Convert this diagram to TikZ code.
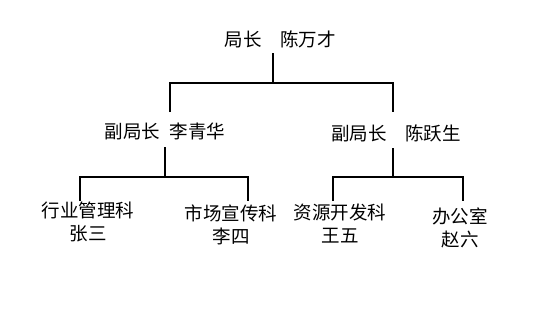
\documentclass[tikz,border=0pt]{standalone}
\usepackage{fontspec}
\setmainfont{Noto Sans CJK SC}
\usepackage{tikz}

\begin{document}
\begin{tikzpicture}[x=1pt,y=-1pt,line width=2.2pt,font=\fontsize{18.5}{23}\selectfont,
  unit/.style={align=center,inner sep=0pt}]
\useasboundingbox (0,0) rectangle (537,317);
\node[unit] (chief) at (280,39) {局长\hspace{1em}陈万才};
\node[unit] (depL) at (165,131) {副局长\hspace{.5em}李青华};
\node[unit] (depR) at (396,133) {副局长\hspace{1em}陈跃生};
\node[unit] (sec1) at (88,222) {行业管理科\\张三};
\node[unit] (sec2) at (231,225) {市场宣传科\\李四};
\node[unit] (sec3) at (340,224) {资源开发科\\王五};
\node[unit] (sec4) at (460,228) {办公室\\赵六};
\coordinate (hub) at (273,83);\coordinate (hubL) at (170,83);\coordinate (hubR) at (393,83);
\coordinate (forkL) at (165,177);\coordinate (forkR) at (393,177);
\draw (hub|-0,53)--(hub);
\draw (hubL|-0,112)--(hubL)--(hubR)--(hubR|-0,112);
\draw (forkL|-0,147)--(forkL);\draw (80,201)|-(forkL)-|(248,201);
\draw (forkR|-0,148)--(forkR);\draw (333,201)|-(forkR)-|(463,201);
\end{tikzpicture}
\end{document}
